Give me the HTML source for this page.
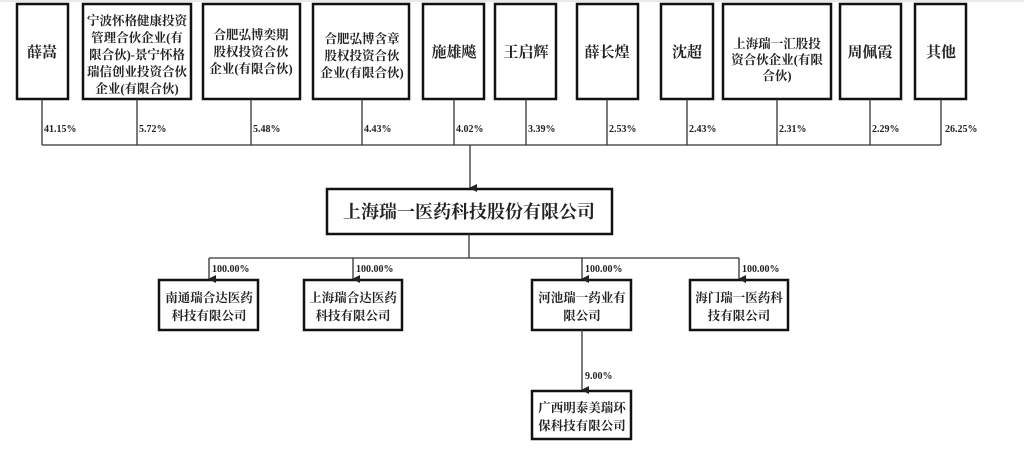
<!DOCTYPE html>
<html><head><meta charset="utf-8"><style>
html,body{margin:0;padding:0;background:#fff;width:1024px;height:450px;overflow:hidden}
svg{display:block}
text{font-family:"Liberation Serif","Noto Serif CJK SC",serif;font-weight:bold;fill:#222}
.p{font-size:10px;font-family:"Liberation Serif",serif}
.n{font-size:15px}
.s{font-size:12.5px}
</style></head><body>
<svg width="1024" height="450" viewBox="0 0 1024 450" xmlns="http://www.w3.org/2000/svg">
<defs><marker id="a" markerWidth="8" markerHeight="8" refX="4" refY="7" orient="auto" markerUnits="userSpaceOnUse"><path d="M0,0 L8,0 L4,8z" fill="#222"/></marker></defs>
<line x1="0" y1="1" x2="1024" y2="1" stroke="#c8d4e0" stroke-width="1"/>
<g fill="#fff" stroke="#111" stroke-width="2.5">
<rect x="17" y="4" width="51" height="95"/>
<rect x="83" y="4" width="108" height="95"/>
<rect x="203" y="4" width="97" height="95"/>
<rect x="313" y="4" width="96" height="95"/>
<rect x="423" y="4" width="61" height="95"/>
<rect x="495" y="4" width="61" height="95"/>
<rect x="577" y="4" width="61" height="95"/>
<rect x="661" y="4" width="52" height="95"/>
<rect x="723" y="4" width="108" height="95"/>
<rect x="840" y="4" width="61" height="95"/>
<rect x="915" y="4" width="51" height="95"/>
<rect x="327" y="189" width="285" height="45"/>
<rect x="159" y="280" width="99" height="50"/>
<rect x="304" y="280" width="98" height="50"/>
<rect x="532" y="280" width="99" height="50"/>
<rect x="690" y="280" width="98" height="50"/>
<rect x="532" y="391" width="99" height="48"/>
</g>
<g stroke="#333" stroke-width="1.3" fill="none">
<path d="M42,99V145M137,99V145M251,99V145M362,99V145M454,99V145M526,99V145M607,99V145M687,99V145M777,99V145M870,99V145M941,99V145M42,145H941"/>
<line x1="470" y1="145" x2="470" y2="188" marker-end="url(#a)"/>
<path d="M469,234V258M209,258H739"/>
<line x1="209" y1="258" x2="209" y2="279" marker-end="url(#a)"/>
<line x1="353" y1="258" x2="353" y2="279" marker-end="url(#a)"/>
<line x1="582" y1="258" x2="582" y2="279" marker-end="url(#a)"/>
<line x1="739" y1="258" x2="739" y2="279" marker-end="url(#a)"/>
<line x1="582" y1="330" x2="582" y2="390" marker-end="url(#a)"/>
</g>
<g class="p">
<text x="44" y="132">41.15%</text><text x="139" y="132">5.72%</text><text x="253" y="132">5.48%</text>
<text x="364" y="132">4.43%</text><text x="456" y="132">4.02%</text><text x="528" y="132">3.39%</text>
<text x="609" y="132">2.53%</text><text x="689" y="132">2.43%</text><text x="779" y="132">2.31%</text>
<text x="872" y="132">2.29%</text><text x="945" y="132">26.25%</text>
<text x="212" y="272">100.00%</text><text x="356" y="272">100.00%</text><text x="585" y="272">100.00%</text>
<text x="742" y="272">100.00%</text><text x="585" y="379">9.00%</text>
</g>
<g class="n" text-anchor="middle">
<text x="42" y="57">薛嵩</text>
<text x="454" y="57">施雄飚</text>
<text x="526" y="57">王启辉</text>
<text x="607" y="57">薛长煌</text>
<text x="687" y="57">沈超</text>
<text x="870" y="57">周佩霞</text>
<text x="941" y="57">其他</text>
</g>
<g class="s" text-anchor="middle">
<text x="137" y="25">宁波怀格健康投资</text><text x="137" y="42">管理合伙企业(有</text><text x="137" y="59">限合伙)-景宁怀格</text><text x="137" y="76">瑞信创业投资合伙</text><text x="137" y="93">企业(有限合伙)</text>
<text x="251" y="39">合肥弘博奕期</text><text x="251" y="56">股权投资合伙</text><text x="251" y="73">企业(有限合伙)</text>
<text x="362" y="43">合肥弘博含章</text><text x="362" y="60">股权投资合伙</text><text x="362" y="77">企业(有限合伙)</text>
<text x="777" y="48">上海瑞一汇股投</text><text x="777" y="64">资合伙企业(有限</text><text x="777" y="80">合伙)</text>
<text x="209" y="302">南通瑞合达医药</text><text x="209" y="320">科技有限公司</text>
<text x="353" y="302">上海瑞合达医药</text><text x="353" y="320">科技有限公司</text>
<text x="582" y="302">河池瑞一药业有</text><text x="582" y="320">限公司</text>
<text x="739" y="302">海门瑞一医药科</text><text x="739" y="320">技有限公司</text>
<text x="582" y="412">广西明泰美瑞环</text><text x="582" y="430">保科技有限公司</text>
</g>
<text x="469" y="218" text-anchor="middle" style="font-size:18px">上海瑞一医药科技股份有限公司</text>
</svg>
</body></html>
